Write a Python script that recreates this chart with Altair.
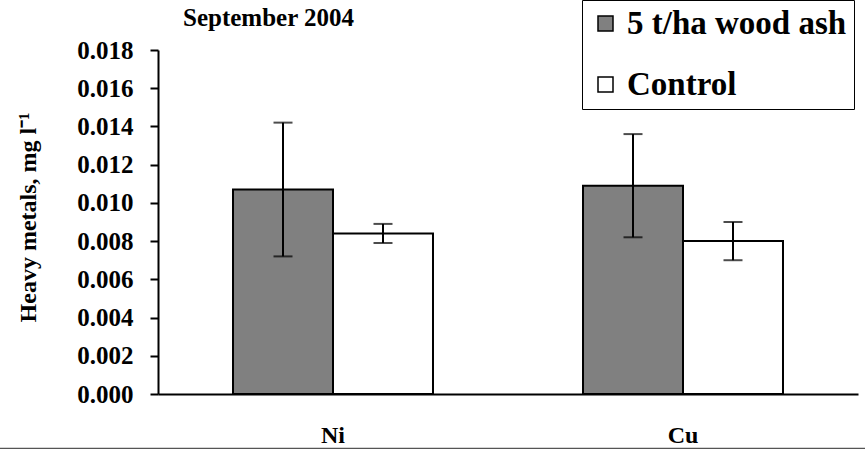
import altair as alt
import pandas as pd

# Mean heavy-metal concentrations (mg/l) with standard deviations
metals = ["Ni", "Ni", "Cu", "Cu"]
treatments = ["5 t/ha wood ash", "Control", "5 t/ha wood ash", "Control"]
means = [0.0107, 0.0084, 0.0109, 0.0080]
errors = [0.0035, 0.0005, 0.0027, 0.0010]

metal_order = ["Ni", "Cu"]
treatment_order = ["5 t/ha wood ash", "Control"]
treatment_colors = ["#808080", "#ffffff"]
y_ticks = [0.000, 0.002, 0.004, 0.006, 0.008, 0.010, 0.012, 0.014, 0.016, 0.018]

df = pd.DataFrame({"metal": metals, "treatment": treatments, "mean": means, "err": errors})
df["lo"] = df["mean"] - df["err"]
df["hi"] = df["mean"] + df["err"]

FONT = "Liberation Serif, Times New Roman, Times, serif"

x_axis = alt.Axis(
    title=None, labelAngle=0, ticks=False, tickSize=0, labelPadding=48,
    labelBaseline="alphabetic", labelFont=FONT, labelFontWeight="bold",
    labelFontSize=24, labelColor="black", domainColor="black", domainWidth=2,
    grid=False,
)
x_scale = alt.Scale(paddingInner=0.4286, paddingOuter=0.2143)
x_enc = alt.X("metal:N", sort=metal_order, scale=x_scale, axis=x_axis)
xoff = alt.XOffset("treatment:N", sort=treatment_order, scale=alt.Scale(paddingInner=0, paddingOuter=0))

y_scale = alt.Scale(domain=[0, 0.018], nice=False, zero=True)
y_axis = alt.Axis(
    values=y_ticks, format=".3f", title="Heavy metals, mg l⁻¹", grid=False,
    labelOverlap=False,
    labelFont=FONT, labelFontWeight="bold", labelFontSize=25, labelColor="black",
    labelPadding=17, tickSize=8, tickWidth=2, tickColor="black",
    domainColor="black", domainWidth=2,
    titleFont=FONT, titleFontWeight="bold", titleFontSize=24, titleColor="black",
    titleAngle=270, titleX=-130, titleY=167, titleAlign="center", titleBaseline="middle",
)

bars = alt.Chart(df).mark_bar(stroke="black", strokeWidth=2).encode(
    x=x_enc,
    xOffset=xoff,
    y=alt.Y("mean:Q", scale=y_scale, axis=y_axis),
    color=alt.Color(
        "treatment:N",
        scale=alt.Scale(domain=treatment_order, range=treatment_colors),
        legend=alt.Legend(
            title=None, orient="none", legendX=424, legendY=-50,
            symbolType="square", symbolSize=225, symbolStrokeColor="black",
            symbolStrokeWidth=1.5, symbolOffset=0, labelOffset=5,
            labelFont=FONT, labelFontWeight="bold", labelFontSize=33,
            labelColor="black", labelLimit=400, rowPadding=27, padding=7,
            strokeColor="black", fillColor="white",
        ),
    ),
)

# error bars: vertical whisker plus a cap at each end
whisk = alt.Chart(df).mark_rule(color="black", strokeWidth=2).encode(
    x=x_enc, xOffset=xoff,
    y=alt.Y("lo:Q", scale=y_scale, axis=y_axis), y2="hi:Q",
)
cap_hi = alt.Chart(df).mark_tick(color="black", size=19, thickness=2).encode(
    x=x_enc, xOffset=xoff,
    y=alt.Y("hi:Q", scale=y_scale, axis=y_axis),
)
cap_lo = alt.Chart(df).mark_tick(color="black", size=19, thickness=2).encode(
    x=x_enc, xOffset=xoff,
    y=alt.Y("lo:Q", scale=y_scale, axis=y_axis),
)

frame_line = alt.Chart(pd.DataFrame({"k": [0]})).mark_rule(color="#555555", strokeWidth=1.5).encode(
    x=alt.value(-158), x2=alt.value(707), y=alt.value(398.5)
)

chart = alt.layer(bars, whisk, cap_hi, cap_lo, frame_line).properties(
    width=700, height=344,
    title=alt.TitleParams(
        "September 2004", anchor="start", frame="group", dx=25, dy=45, font=FONT,
        fontWeight="bold", fontSize=25, color="black", offset=14,
    ),
    autosize=alt.AutoSizeParams(type="none"),
    padding={"left": 158, "top": 50, "right": 7, "bottom": 55},
    background="white",
).configure_view(stroke=None)

chart.save("out.html", embed_options={"renderer": "svg", "actions": False})
